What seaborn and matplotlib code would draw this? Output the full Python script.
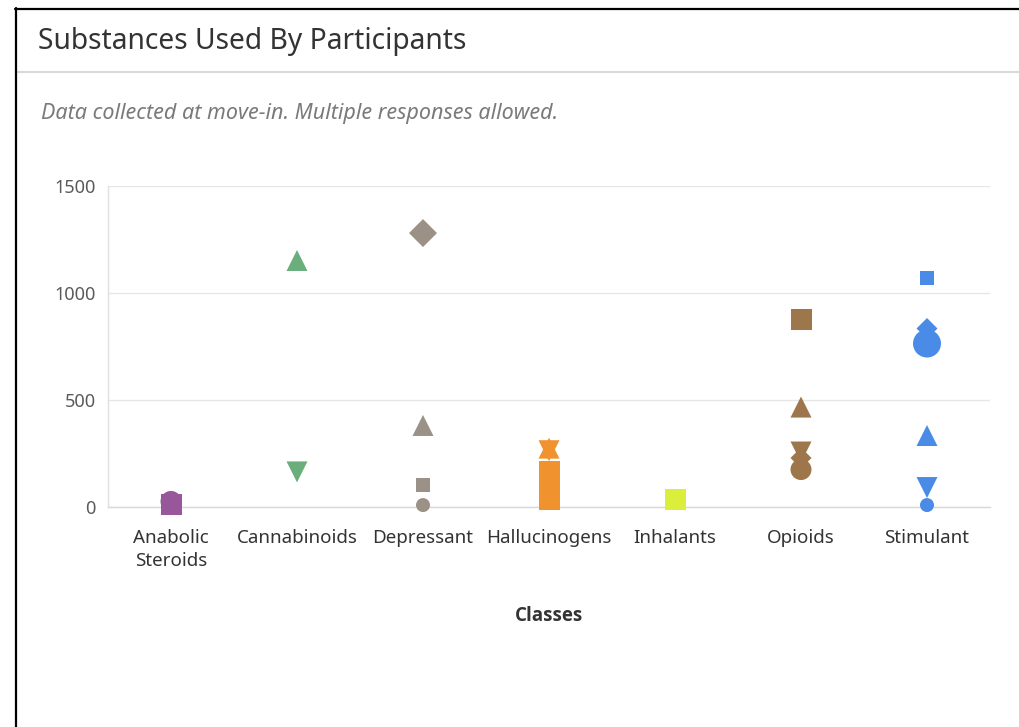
import matplotlib
matplotlib.use("Agg")
import matplotlib.pyplot as plt
import seaborn as sns
import pandas as pd
from matplotlib.lines import Line2D

# ---------------- data ----------------
classes = ["Anabolic Steroids", "Cannabinoids", "Depressant", "Hallucinogens",
           "Inhalants", "Opioids", "Stimulant"]
tick_labels = ["Anabolic\nSteroids", "Cannabinoids", "Depressant", "Hallucinogens",
               "Inhalants", "Opioids", "Stimulant"]

anabolic_vals = [26, 10]
anabolic_syms = ["circle", "square"]
cannabinoid_vals = [1152, 164]
cannabinoid_syms = ["triangle", "triangle-down"]
depressant_vals = [9, 1280, 105, 381]
depressant_syms = ["circle", "diamond", "square", "triangle"]
halluc_vals = [275, 263, 35, 68, 168]
halluc_syms = ["triangle", "triangle-down", "square", "square", "square"]
inhalant_vals = [33]
inhalant_syms = ["square"]
opioid_vals = [229, 175, 257, 467, 878]
opioid_syms = ["diamond", "circle", "triangle-down", "triangle", "square"]
stimulant_vals = [834, 764, 1072, 334, 91, 9]
stimulant_syms = ["diamond", "circle", "square", "triangle", "triangle-down", "circle"]

# marker size class per point (style)
anabolic_sz = ["md", "md"]
cannabinoid_sz = ["md", "md"]
depressant_sz = ["sm", "lg", "sm", "md"]
halluc_sz = ["md", "md", "md", "md", "md"]
inhalant_sz = ["md"]
opioid_sz = ["md", "md", "md", "md", "md"]
stimulant_sz = ["md", "lg", "sm", "md", "md", "sm"]

colors = {
    "Anabolic Steroids": "#98579b",
    "Cannabinoids": "#6aaf7b",
    "Depressant": "#9b9187",
    "Hallucinogens": "#f0922d",
    "Inhalants": "#dcee3c",
    "Opioids": "#9e764b",
    "Stimulant": "#4a8be8",
}

rows = []
for cls, vals, syms, szs in [
    ("Anabolic Steroids", anabolic_vals, anabolic_syms, anabolic_sz),
    ("Cannabinoids", cannabinoid_vals, cannabinoid_syms, cannabinoid_sz),
    ("Depressant", depressant_vals, depressant_syms, depressant_sz),
    ("Hallucinogens", halluc_vals, halluc_syms, halluc_sz),
    ("Inhalants", inhalant_vals, inhalant_syms, inhalant_sz),
    ("Opioids", opioid_vals, opioid_syms, opioid_sz),
    ("Stimulant", stimulant_vals, stimulant_syms, stimulant_sz),
]:
    for v, s, z in zip(vals, syms, szs):
        rows.append({"cls": cls, "val": v, "sym": s, "sz": z})
df = pd.DataFrame(rows)
df["x"] = df["cls"].map({c: i for i, c in enumerate(classes)})

# ---------------- style ----------------
sns.set_theme(style="white")
plt.rcParams["font.family"] = ["Noto Sans", "DejaVu Sans"]

diamond = [(0, 1), (1, 0), (0, -1), (-1, 0), (0, 1)]
markers = {"circle": "o", "square": "s", "triangle": "^",
           "triangle-down": "v", "diamond": diamond}
px2pt = 72 / 100
sizes = {"sm": (14 * px2pt) ** 2, "md": (21 * px2pt) ** 2, "lg": (28 * px2pt) ** 2}

W, H = 1019, 727
fig = plt.figure(figsize=(W / 100, H / 100), dpi=100)
fig.patch.set_facecolor("white")

ax = fig.add_axes([108 / W, (H - 507) / H, (990 - 108) / W, (507 - 186) / H])
ax.set_facecolor("white")

sns.scatterplot(data=df, x="x", y="val", hue="cls", palette=colors,
                style="sym", markers=markers, size="sz", sizes=sizes,
                linewidth=0, edgecolor="none", alpha=1, legend=False,
                ax=ax, clip_on=False, zorder=5)

ax.set_xlim(-0.5, len(classes) - 0.5)
ax.set_ylim(0, 1500)
ax.set_yticks([0, 500, 1000, 1500])
ax.set_yticklabels(["0", "500", "1000", "1500"])
ax.set_xticks(range(len(classes)))
ax.set_xticklabels(tick_labels, linespacing=1.35)
ax.set_xticks([i - 0.5 for i in range(len(classes) + 1)], minor=True)
ax.grid(axis="y", color="#e6e6e6", linewidth=1)
ax.set_axisbelow(True)
for s in ["top", "right"]:
    ax.spines[s].set_visible(False)
ax.spines["left"].set_color("#e0e0e0")
ax.spines["left"].set_linewidth(1)
ax.spines["bottom"].set_color("#d8d8d8")
ax.spines["bottom"].set_linewidth(1)

ax.tick_params(axis="y", length=0, pad=9, labelsize=13, labelcolor="#5a5a5a")
ax.tick_params(axis="x", which="major", length=0, pad=16, labelsize=13.5,
               labelcolor="#333333")
ax.tick_params(axis="x", which="minor", length=6, width=1, color="#d8d8d8",
               direction="out")
ax.set_xlabel("")
ax.set_ylabel("")

# ---------------- texts and frame ----------------
fig.text(38 / W, 1 - 42 / H, "Substances Used By Participants", fontsize=20.3,
         color="#333333", va="center", ha="left")
fig.text(41 / W, 1 - 113 / H, "Data collected at move-in. Multiple responses allowed.",
         fontsize=15.5, style="italic", color="#7a7a7a", va="center", ha="left")
fig.text(549 / W, 1 - 616 / H, "Classes", fontsize=13.5, fontweight="bold",
         family=["Open Sans", "DejaVu Sans"],
         color="#333333", va="center", ha="center")

fig.add_artist(Line2D([16 / W, 1], [1 - 72 / H, 1 - 72 / H], color="#d9d9d9",
                      linewidth=1.5, transform=fig.transFigure))
fig.add_artist(Line2D([15.5 / W, 15.5 / W], [0, 1 - 8 / H], color="black",
                      linewidth=1.6, transform=fig.transFigure))
fig.add_artist(Line2D([15 / W, 1], [1 - 8.5 / H, 1 - 8.5 / H], color="black",
                      linewidth=1.6, transform=fig.transFigure))

fig.savefig("out.png", dpi=100, facecolor="white")
